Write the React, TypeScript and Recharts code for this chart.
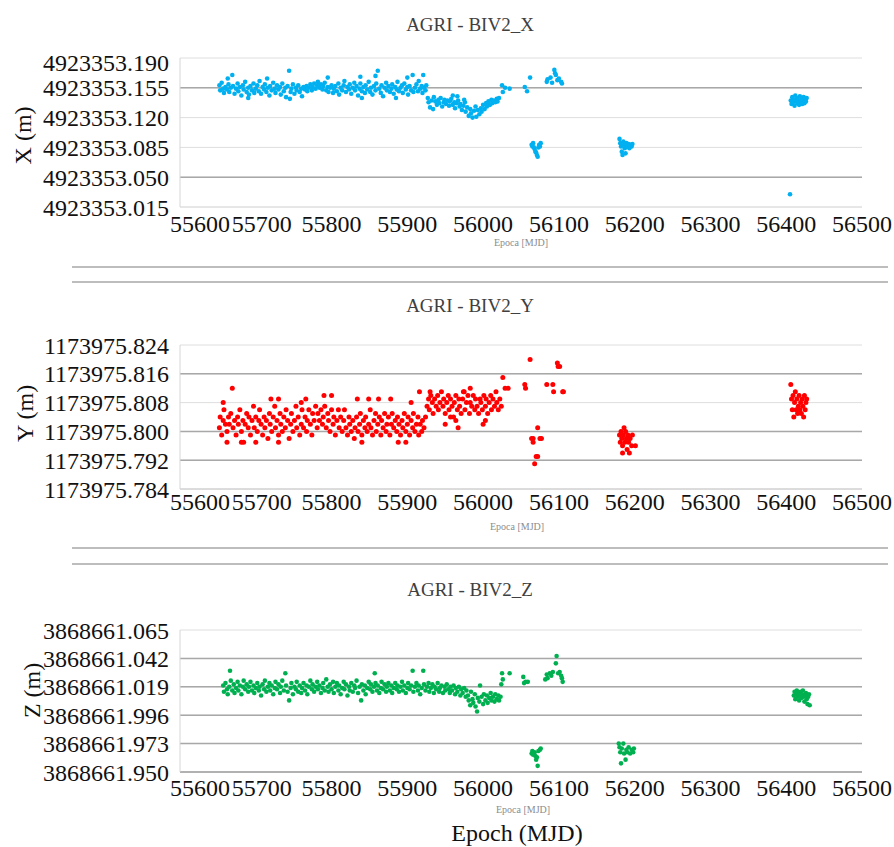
import React from 'react';
import { ScatterChart, Scatter, XAxis, YAxis, CartesianGrid, ReferenceLine } from 'recharts';

// epochs (MJD) and offsets in mm from each base coordinate

const xTicksMjd = [55600, 55700, 55800, 55900, 56000, 56100, 56200, 56300, 56400, 56500];

// ---------- X ----------
const X_BASE = 4923353.0;
const xTicks = [4923353.015, 4923353.05, 4923353.085, 4923353.12, 4923353.155, 4923353.19];
const xTickLabels = ['4923353.015', '4923353.050', '4923353.085', '4923353.120', '4923353.155', '4923353.190'];
const xDarkGrid = [4923353.155, 4923353.05];

const xMain = [
  [55652,158],[55653,152],[55655,161],[55657,154],[55658,149],[55660,156],[55662,153],[55664,159],[55665,150],[55667,155],
  [55669,170],[55670,157],[55672,148],[55674,154],[55676,160],[55677,151],[55679,156],[55681,146],[55683,158],[55684,153],
  [55686,162],[55688,150],[55690,155],[55691,147],[55693,157],[55695,152],[55697,160],[55698,149],[55700,154],[55702,158],
  [55704,151],[55705,163],[55707,148],[55709,156],[55711,153],[55712,159],[55714,150],[55716,155],[55718,146],[55719,157],
  [55721,152],[55723,161],[55725,154],[55726,149],[55728,158],[55730,153],[55732,156],[55733,147],[55735,160],[55737,151],
  [55739,155],[55740,144],[55742,157],[55744,175],[55746,150],[55747,154],[55749,159],[55751,148],[55753,155],[55754,152],
  [55756,158],[55758,150],[55760,154],[55761,145],[55763,156],[55765,153],[55767,157],[55768,151],[55770,155],[55772,159],
  [55774,152],[55775,156],[55777,160],[55779,154],[55781,158],[55782,162],[55784,155],[55786,159],[55788,153],[55789,157],
  [55791,161],[55793,152],[55795,156],[55796,150],[55798,155],[55800,158],[55802,149],[55803,154],[55805,157],[55807,151],
  [55809,160],[55810,147],[55812,155],[55814,152],[55816,158],[55817,163],[55819,150],[55821,156],[55823,153],[55824,159],
  [55826,148],[55828,155],[55830,161],[55831,152],[55833,157],[55835,146],[55837,154],[55838,160],[55840,151],[55842,156],
  [55844,149],[55845,158],[55847,153],[55849,162],[55851,150],[55852,155],[55854,147],[55856,157],[55858,152],[55859,160],
  [55861,175],[55863,154],[55865,149],[55866,158],[55868,145],[55870,155],[55872,161],[55873,152],[55875,157],[55877,150],
  [55879,154],[55880,159],[55882,148],[55884,156],[55886,153],[55887,162],[55889,151],[55891,155],[55893,158],[55894,149],
  [55896,160],[55898,153],[55900,156],[55901,147],[55903,157],[55905,152],[55907,170],[55908,150],[55910,155],[55912,159],
  [55914,151],[55915,163],[55917,154],[55919,157],[55920,149],[55921,170],[55922,155],[55924,152],[55925,158],
  [55663,166],[55715,166],[55795,167],[55838,168],[55858,169],[55900,167],[55690,143],[55745,142],[55840,143],[55885,143],
];
const xShift = [
  [55927,143],[55928,138],[55930,132],[55932,140],[55934,130],[55935,144],[55937,139],[55939,135],[55941,141],[55942,137],
  [55944,143],[55946,133],[55948,138],[55949,141],[55951,136],[55953,140],[55955,134],[55956,139],[55958,142],[55960,135],
  [55962,138],[55963,131],[55965,137],[55967,140],[55969,133],[55970,136],[55972,129],[55974,134],[55976,138],[55977,127],
  [55979,132],[55981,122],[55983,130],[55984,125],[55986,120],[55988,128],[55990,133],[55991,121],[55993,129],[55995,124],
  [55997,131],[55998,127],[56000,135],[56002,130],[56004,137],[56005,133],[56007,139],[56009,135],[56011,141],[56012,137],
  [56014,140],[56016,138],[56018,142],[56019,139],[56021,143],[55975,141],[55966,145],[55960,146],
];
const xHigh = [
  [56025,158],[56026,150],[56029,155],[56035,154],[56055,156],[56058,151],[56062,167],
  [56084,162],[56085,165],[56089,167],[56091,161],[56094,176],[56095,172],[56096,170],[56098,164],[56100,166],[56103,162],[56104,160],
];
const xLowA = [
  [56064,88],[56065,86],[56066,90],[56067,85],[56068,83],[56069,80],[56070,79],[56071,76],[56072,74],[56073,85],[56074,88],[56075,86],[56076,90],
];
const xLowB = [
  [56180,95],[56181,90],[56182,86],[56183,80],[56184,76],[56185,92],[56186,88],[56187,84],[56188,78],[56189,90],
  [56190,86],[56192,89],[56193,84],[56195,88],[56196,86],[56197,89],
];
const xLate = [
  [56405,30],
  [56406,140],[56407,136],[56408,144],[56409,138],[56410,141],[56411,134],[56412,146],[56413,139],[56414,143],[56415,137],
  [56416,140],[56417,135],[56418,145],[56419,138],[56420,142],[56421,136],[56422,140],[56423,144],[56424,137],[56425,141],
  [56426,139],[56427,143],
];

// ---------- Y ----------
const Y_BASE = 1173975.0;
const yTicks = [1173975.784, 1173975.792, 1173975.8, 1173975.808, 1173975.816, 1173975.824];
const yTickLabels = ['1173975.784', '1173975.792', '1173975.800', '1173975.808', '1173975.816', '1173975.824'];
const yDarkGrid = [1173975.816, 1173975.8, 1173975.792];

const yMain = [
  [55652,801],[55653,804],[55655,799],[55657,803],[55658,806],[55660,802],[55662,800],[55664,804],[55665,802],[55667,805],
  [55669,812],[55670,801],[55672,803],[55674,799],[55676,804],[55677,802],[55679,806],[55681,800],[55683,803],[55684,797],
  [55686,802],[55688,805],[55690,801],[55691,804],[55693,799],[55695,803],[55697,807],[55698,801],[55700,804],[55702,800],
  [55704,803],[55705,806],[55707,802],[55709,799],[55711,804],[55712,801],[55714,803],[55716,798],[55718,805],[55719,802],
  [55721,800],[55723,804],[55725,807],[55726,801],[55728,803],[55730,799],[55732,805],[55733,802],[55735,800],[55737,804],
  [55739,801],[55740,806],[55742,803],[55744,798],[55746,802],[55747,805],[55749,800],[55751,803],[55753,807],[55754,801],
  [55756,804],[55758,799],[55760,802],[55761,806],[55763,801],[55765,804],[55767,800],[55768,803],[55770,806],[55772,802],
  [55774,799],[55775,805],[55777,803],[55779,807],[55781,801],[55782,805],[55784,803],[55786,806],[55788,802],[55789,804],
  [55791,807],[55793,801],[55795,805],[55796,803],[55798,800],[55800,806],[55802,802],[55803,804],[55805,799],[55807,803],
  [55809,806],[55810,801],[55812,804],[55814,800],[55816,803],[55817,806],[55819,801],[55821,799],[55823,804],[55824,802],
  [55826,800],[55828,803],[55830,798],[55831,801],[55833,804],[55835,800],[55837,802],[55838,805],[55840,799],[55842,803],
  [55844,801],[55845,804],[55847,800],[55849,802],[55851,806],[55852,801],[55854,799],[55856,803],[55858,805],[55859,800],
  [55861,802],[55863,804],[55865,799],[55866,803],[55868,801],[55870,805],[55872,800],[55873,802],[55875,804],[55877,799],
  [55879,802],[55880,805],[55882,801],[55884,803],[55886,800],[55887,804],[55889,802],[55891,799],[55893,803],[55894,801],
  [55896,805],[55898,800],[55900,802],[55901,804],[55903,799],[55905,803],[55907,801],[55908,805],[55910,800],[55912,802],
  [55914,804],[55915,799],[55917,802],[55919,800],[55920,803],[55922,801],[55924,804],
  [55657,808],[55662,797],[55681,797],[55720,809],[55730,809],[55760,808],[55766,809],[55790,810],[55800,810],[55834,809],
  [55849,809],[55862,809],[55878,809],[55888,797],[55898,797],[55905,808],[55916,811],[55700,797],[55730,797],[55840,797],
];
const yShift = [
  [55926,807],[55928,809],[55929,806],[55931,810],[55933,808],[55934,805],[55936,809],[55938,807],[55940,810],[55941,806],
  [55943,808],[55945,811],[55947,807],[55948,809],[55950,805],[55952,808],[55954,810],[55955,806],[55957,809],[55959,807],
  [55961,804],[55962,808],[55964,810],[55966,806],[55968,809],[55969,807],[55971,805],[55973,809],[55975,811],[55976,806],
  [55978,808],[55980,810],[55982,805],[55983,808],[55985,807],[55987,810],[55989,806],[55990,809],[55992,807],[55994,805],
  [55996,809],[55997,808],[55999,806],[56001,810],[56003,807],[56004,809],[56006,805],[56008,808],[56010,810],[56011,806],
  [56013,809],[56015,807],[56017,811],[56018,808],[56020,806],[56022,809],[56024,807],
  [55930,811],[55950,802],[55957,804],[55964,803],[55967,801],[55974,811],[55983,812],[56000,802],[56003,803],
];
const yHigh = [
  [56026,815],[56029,812],[56033,812],[56055,813],[56056,812],[56062,820],
  [56084,813],[56092,813],[56093,811],[56098,819],[56099,818],[56101,818],[56105,811],[56106,811],
];
const yLowA = [
  [56064,798],[56066,797],[56066,798],[56068,791],[56070,793],[56072,801],[56072,793],[56075,798],[56077,798],
];
const yLowB = [
  [56180,799],[56181,797],[56182,800],[56183,798],[56184,796],[56185,799],[56186,801],[56187,797],[56188,800],[56189,798],
  [56190,795],[56191,799],[56192,797],[56194,798],[56196,796],[56197,799],[56184,794],[56193,794],[56201,796],
];
const yLate = [
  [56406,813],[56407,809],[56408,806],[56409,810],[56410,804],[56411,808],[56412,811],[56413,806],[56414,809],[56415,805],
  [56416,807],[56417,810],[56418,806],[56419,808],[56420,805],[56421,809],[56422,807],[56423,804],[56424,810],[56425,806],
  [56426,808],[56427,809],
];

// ---------- Z ----------
const Z_BASE = 3868661.0;
const zTicks = [3868660.95, 3868660.973, 3868660.996, 3868661.019, 3868661.042, 3868661.065];
const zTickLabels = ['3868661.950', '3868661.973', '3868661.996', '3868661.019', '3868661.042', '3868661.065'];
const zDarkGrid = [3868660.95, 3868660.973, 3868660.996, 3868661.019, 3868661.042];

const zMain = [
  [55657,20],[55658,15],[55660,22],[55662,17],[55663,13],[55665,19],[55666,32],[55667,24],[55669,16],[55671,21],
  [55672,14],[55674,18],[55676,23],[55677,16],[55679,20],[55681,13],[55683,19],[55684,24],[55686,17],[55688,21],
  [55690,15],[55691,19],[55693,23],[55695,16],[55697,20],[55698,14],[55700,18],[55702,22],[55704,16],[55705,19],
  [55707,12],[55709,21],[55711,17],[55712,24],[55714,15],[55716,19],[55718,22],[55719,16],[55721,20],[55723,13],
  [55725,18],[55726,23],[55728,17],[55730,21],[55732,14],[55733,19],[55735,24],[55737,16],[55739,30],[55740,20],
  [55742,15],[55744,8],[55746,18],[55747,22],[55749,13],[55751,19],[55753,17],[55754,23],[55756,15],[55758,20],
  [55760,14],[55761,18],[55763,22],[55765,16],[55767,20],[55768,13],[55770,19],[55772,24],[55774,17],[55775,21],
  [55777,15],[55779,19],[55781,23],[55782,17],[55784,20],[55786,14],[55788,18],[55789,22],[55791,16],[55793,25],
  [55795,19],[55796,15],[55798,21],[55800,17],[55802,23],[55803,14],[55805,19],[55807,22],[55809,16],[55810,20],
  [55812,13],[55814,18],[55816,23],[55817,17],[55819,21],[55821,12],[55823,19],[55824,16],[55826,22],[55828,15],
  [55830,20],[55831,18],[55833,24],[55835,14],[55837,19],[55839,8],[55840,21],[55842,16],[55844,20],[55845,13],
  [55847,18],[55849,23],[55851,17],[55852,21],[55854,15],[55856,19],[55857,30],[55858,22],[55860,16],[55861,20],
  [55863,14],[55865,18],[55866,23],[55868,17],[55870,21],[55872,15],[55873,19],[55875,22],[55877,16],[55879,20],
  [55880,14],[55882,18],[55884,22],[55886,17],[55887,20],[55889,15],[55891,19],[55893,23],[55894,16],[55896,20],
  [55898,14],[55900,18],[55901,22],[55903,17],[55905,20],[55907,32],[55908,15],[55910,19],[55912,22],[55914,16],
  [55915,20],[55917,13],[55919,18],[55921,32],[55922,21],[55924,16],[55926,19],[55928,22],[55929,15],[55931,18],
  [55933,21],[55935,14],[55936,19],[55938,17],[55940,22],[55942,15],[55943,18],[55945,20],[55947,14],[55949,19],
  [55950,16],[55952,21],[55954,17],[55956,14],[55957,19],[55959,16],[55961,20],[55963,13],[55964,18],[55966,15],
  [55968,19],[55970,12],[55971,17],[55973,14],[55975,18],[55977,11],[55978,16],
];
const zDip = [
  [55980,12],[55981,8],[55983,4],[55984,15],[55986,9],[55987,6],[55989,13],[55990,3],[55992,-1],[55993,10],
  [55995,7],[55996,20],[55998,11],[56000,5],[56001,13],[56003,8],[56005,12],[56006,6],[56008,10],[56010,14],
  [56011,8],[56013,11],[56015,7],[56016,13],[56018,9],[56020,12],[56021,8],[56023,11],
];
const zHigh = [
  [56024,21],[56025,30],[56026,25],[56035,30],[56053,27],[56054,22],[56056,23],[56059,23],
  [56082,25],[56084,29],[56085,26],[56088,30],[56090,28],[56092,31],[56096,38],[56097,44],[56099,30],[56101,31],
  [56103,28],[56104,26],[56105,23],
];
const zLowA = [
  [56064,-35],[56065,-33],[56066,-36],[56068,-34],[56069,-37],[56070,-40],[56071,-38],[56072,-45],[56073,-33],[56075,-32],[56076,-31],
];
const zLowB = [
  [56179,-27],[56180,-30],[56181,-34],[56182,-43],[56183,-31],[56185,-27],[56186,-35],[56188,-40],[56189,-32],[56190,-34],
  [56192,-30],[56194,-35],[56196,-32],[56198,-34],[56199,-31],
];
const zLate = [
  [56410,12],[56411,15],[56412,9],[56413,13],[56414,16],[56415,11],[56416,14],[56417,8],[56418,12],[56419,15],
  [56420,10],[56421,13],[56422,16],[56423,11],[56424,7],[56425,12],[56426,14],[56427,9],[56428,5],[56429,11],
  [56430,13],[56431,4],
];

const FONT = '"Liberation Serif", "Times New Roman", serif';

// the scanned labels of the first two epochs sit a bit to the right
const xLabelShift: Record<number, number> = { 55600: 20, 55700: 6 };

const toRows = (base: number, groups: number[][][]) =>
  groups.flat().map(([mjd, mm]) => ({ mjd, y: base + mm / 1000 }));

interface PanelProps {
  top: number;
  marginTop: number;
  marginBottom: number;
  tickGap: number;
  rows: { mjd: number; y: number }[];
  color: string;
  dot: number;
  ticks: number[];
  labels: string[];
  dark: number[];
  bottomLine: string;
  topNudge: number;
}

const Panel: React.FC<PanelProps> = ({
  top, marginTop, marginBottom, tickGap, rows, color, dot, ticks, labels, dark, bottomLine, topNudge,
}) => {
  const xTick = (p: any) => (
    <text
      x={p.x + (xLabelShift[p.payload.value] || 0)}
      y={p.y}
      dy="0.71em"
      textAnchor="middle"
      fontFamily={FONT}
      fontSize={24}
      fill="#111"
    >
      {p.payload.value}
    </text>
  );
  const yTick = (p: any) => {
    const v = p.payload.value;
    const i = ticks.indexOf(v);
    const nudge = i === ticks.length - 1 ? topNudge : 0;
    return (
      <text x={p.x} y={p.y + nudge} dy="0.355em" textAnchor="end" fontFamily={FONT} fontSize={24} fill="#111">
        {i >= 0 ? labels[i] : Number(v).toFixed(3)}
      </text>
    );
  };

  return (
    <div style={{ position: 'absolute', left: 0, top }}>
      <ScatterChart width={894} height={250} margin={{ top: marginTop, right: 32, bottom: marginBottom, left: 8 }}>
        <CartesianGrid vertical={false} stroke="#dedede" />
        {dark.map((v) => (
          <ReferenceLine key={v} y={v} stroke="#a8a8a8" strokeWidth={1.5} />
        ))}
        <XAxis
          type="number"
          dataKey="mjd"
          domain={[55600, 56500]}
          ticks={xTicksMjd}
          interval={0}
          height={30}
          tickLine={false}
          tickSize={0}
          tickMargin={tickGap}
          axisLine={{ stroke: bottomLine }}
          tick={xTick}
        />
        <YAxis
          type="number"
          dataKey="y"
          domain={[ticks[0], ticks[ticks.length - 1]]}
          ticks={ticks}
          interval={0}
          width={172}
          tickLine={false}
          tickSize={0}
          tickMargin={11}
          axisLine={{ stroke: '#d6d6d6' }}
          tick={yTick}
        />
        <Scatter
          data={rows}
          isAnimationActive={false}
          fill={color}
          shape={(p: any) => <circle cx={p.cx} cy={p.cy} r={dot} fill={color} />}
        />
      </ScatterChart>
    </div>
  );
};

const Txt: React.FC<{ x: number; y: number; size: number; color?: string; rotate?: boolean; children: React.ReactNode }> = ({
  x, y, size, color = '#111', rotate, children,
}) => (
  <div
    style={{
      position: 'absolute',
      left: x - 100,
      top: y - size * 0.6,
      width: 200,
      height: size * 1.2,
      lineHeight: `${size * 1.2}px`,
      textAlign: 'center',
      fontFamily: FONT,
      fontSize: size,
      color,
      whiteSpace: 'nowrap',
      transform: rotate ? 'rotate(-90deg)' : undefined,
    }}
  >
    {children}
  </div>
);

const Rule: React.FC<{ y: number }> = ({ y }) => (
  <div style={{ position: 'absolute', left: 72, top: y, width: 816, height: 2, background: '#bdbdbd' }} />
);

const App: React.FC = () => {
  return (
    <div style={{ position: 'absolute', left: 0, top: 0, width: 894, height: 847, background: '#fff', overflow: 'hidden' }}>
      <Panel
        top={0}
        marginTop={58}
        marginBottom={13}
        tickGap={8}
        rows={toRows(X_BASE, [xMain, xShift, xHigh, xLowA, xLowB, xLate])}
        color="#00b0f0"
        dot={2.3}
        ticks={xTicks}
        labels={xTickLabels}
        dark={xDarkGrid}
        bottomLine="#dedede"
        topNudge={4}
      />
      <Panel
        top={290}
        marginTop={55}
        marginBottom={21}
        tickGap={4}
        rows={toRows(Y_BASE, [yMain, yShift, yHigh, yLowA, yLowB, yLate])}
        color="#ff0000"
        dot={2.5}
        ticks={yTicks}
        labels={yTickLabels}
        dark={yDarkGrid}
        bottomLine="#c8c8c8"
        topNudge={0}
      />
      <Panel
        top={570}
        marginTop={60}
        marginBottom={18}
        tickGap={7}
        rows={toRows(Z_BASE, [zMain, zDip, zHigh, zLowA, zLowB, zLate])}
        color="#00b050"
        dot={2.3}
        ticks={zTicks}
        labels={zTickLabels}
        dark={zDarkGrid}
        bottomLine="#a8a8a8"
        topNudge={0}
      />

      <Txt x={470} y={25} size={19} color="#404040">AGRI - BIV2_X</Txt>
      <Txt x={470} y={306} size={19} color="#404040">AGRI - BIV2_Y</Txt>
      <Txt x={470} y={590} size={19} color="#404040">AGRI - BIV2_Z</Txt>

      <Txt x={23} y={135} size={24} rotate>X (m)</Txt>
      <Txt x={25} y={413} size={24} rotate>Y (m)</Txt>
      <Txt x={32} y={690} size={24} rotate>Z (m)</Txt>

      <Txt x={521} y={243} size={10} color="#8c8c8c">Epoca [MJD]</Txt>
      <Txt x={517} y={527} size={10} color="#8c8c8c">Epoca [MJD]</Txt>
      <Txt x={523} y={810} size={10} color="#8c8c8c">Epoca [MJD]</Txt>

      <Txt x={517} y={833} size={24}>Epoch (MJD)</Txt>

      <Rule y={266} />
      <Rule y={281} />
      <Rule y={547} />
      <Rule y={563} />
    </div>
  );
};

export default App;
